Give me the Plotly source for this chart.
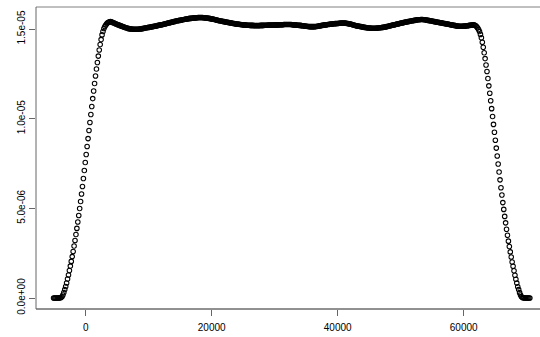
import numpy as np
import plotly.graph_objects as go

# Evaluation grid of the density (evenly spaced, read from first/last point)
X_FROM = -5100
X_TO = 70500

# Density values in units of 1e-8, one per grid point
density_e8 = [
    0, 0, 0, 0, 0, 0, 1, 1, 3, 7,
    17, 31, 47, 64, 84, 106, 128, 153, 178, 204,
    231, 259, 290, 321, 354, 388, 424, 460, 499, 538,
    580, 622, 666, 711, 756, 800, 845, 889, 934, 979,
    1023, 1068, 1112, 1154, 1196, 1238, 1277, 1313, 1349, 1383,
    1414, 1441, 1467, 1486, 1503, 1514, 1522, 1529, 1535, 1538,
    1540, 1541, 1540, 1537, 1535, 1533, 1531, 1528, 1526, 1524,
    1522, 1520, 1518, 1516, 1514, 1512, 1510, 1508, 1506, 1505,
    1503, 1502, 1501, 1500, 1500, 1499, 1499, 1499, 1499, 1499,
    1499, 1499, 1500, 1500, 1501, 1502, 1503, 1504, 1505, 1506,
    1507, 1508, 1509, 1510, 1511, 1512, 1513, 1514, 1515, 1516,
    1517, 1518, 1520, 1521, 1522, 1523, 1524, 1525, 1526, 1528,
    1529, 1530, 1532, 1533, 1534, 1536, 1537, 1538, 1540, 1541,
    1542, 1544, 1545, 1546, 1547, 1548, 1549, 1550, 1551, 1552,
    1553, 1554, 1555, 1556, 1557, 1558, 1559, 1559, 1560, 1561,
    1561, 1562, 1562, 1563, 1563, 1564, 1564, 1564, 1564, 1564,
    1564, 1563, 1563, 1562, 1561, 1561, 1560, 1559, 1558, 1557,
    1556, 1555, 1554, 1552, 1551, 1550, 1549, 1547, 1546, 1545,
    1544, 1543, 1542, 1541, 1540, 1539, 1538, 1537, 1536, 1535,
    1534, 1533, 1532, 1531, 1530, 1529, 1528, 1527, 1527, 1526,
    1525, 1525, 1524, 1524, 1523, 1523, 1522, 1522, 1521, 1521,
    1521, 1520, 1520, 1520, 1520, 1519, 1519, 1519, 1519, 1519,
    1519, 1519, 1520, 1520, 1520, 1520, 1521, 1521, 1521, 1521,
    1522, 1522, 1522, 1522, 1522, 1522, 1522, 1523, 1523, 1523,
    1523, 1523, 1524, 1524, 1524, 1524, 1524, 1525, 1525, 1525,
    1525, 1525, 1525, 1525, 1525, 1525, 1524, 1524, 1523, 1523,
    1522, 1522, 1521, 1521, 1520, 1520, 1519, 1518, 1518, 1517,
    1516, 1515, 1515, 1514, 1514, 1513, 1513, 1513, 1513, 1513,
    1513, 1514, 1514, 1515, 1516, 1517, 1518, 1519, 1520, 1521,
    1522, 1523, 1523, 1524, 1525, 1525, 1526, 1527, 1527, 1528,
    1529, 1529, 1530, 1530, 1531, 1531, 1532, 1532, 1533, 1533,
    1533, 1533, 1533, 1533, 1532, 1531, 1530, 1529, 1528, 1527,
    1525, 1524, 1522, 1521, 1519, 1518, 1517, 1516, 1515, 1514,
    1513, 1512, 1511, 1510, 1509, 1508, 1507, 1506, 1506, 1505,
    1505, 1504, 1504, 1504, 1504, 1504, 1504, 1505, 1505, 1506,
    1507, 1507, 1508, 1509, 1510, 1511, 1511, 1513, 1514, 1515,
    1517, 1518, 1519, 1521, 1522, 1523, 1524, 1525, 1527, 1528,
    1529, 1530, 1532, 1533, 1534, 1535, 1537, 1538, 1539, 1540,
    1541, 1542, 1543, 1544, 1545, 1546, 1547, 1548, 1549, 1550,
    1551, 1551, 1552, 1552, 1553, 1553, 1553, 1552, 1552, 1551,
    1550, 1549, 1548, 1547, 1546, 1545, 1544, 1543, 1542, 1541,
    1540, 1539, 1538, 1537, 1536, 1535, 1534, 1533, 1532, 1531,
    1530, 1529, 1528, 1527, 1526, 1525, 1524, 1523, 1522, 1521,
    1520, 1519, 1518, 1517, 1516, 1515, 1515, 1515, 1515, 1515,
    1516, 1516, 1517, 1518, 1518, 1519, 1520, 1521, 1522, 1522,
    1524, 1523, 1521, 1518, 1512, 1506, 1497, 1486, 1470, 1451,
    1426, 1398, 1368, 1335, 1299, 1263, 1224, 1183, 1142, 1100,
    1056, 1012, 968, 924, 880, 836, 792, 747, 703, 659,
    615, 574, 532, 494, 455, 419, 383, 350, 317, 287,
    257, 229, 201, 177, 152, 127, 105, 83, 63, 47,
    30, 17, 7, 3, 1, 1, 0, 0, 0, 0,
    0, 0,
]

x_ticks = [0, 20000, 40000, 60000]
x_tick_labels = ["0", "20000", "40000", "60000"]
y_ticks = [0.0, 5e-06, 1e-05, 1.5e-05]
y_tick_labels = ["0.0e+00", "5.0e-06", "1.0e-05", "1.5e-05"]

y = np.array(density_e8, dtype=float) * 1e-8
x = np.linspace(X_FROM, X_TO, len(y))

fig = go.Figure()
fig.add_trace(go.Scatter(
    x=x, y=y, mode="markers",
    marker=dict(symbol="circle-open", size=4.5, color="black",
                line=dict(width=1.1, color="black")),
    hoverinfo="skip", showlegend=False,
))

font = dict(family="Liberation Sans, Arial, sans-serif", size=10, color="black")

fig.update_layout(
    width=540, height=337,
    margin=dict(l=36, r=0, t=7, b=28, autoexpand=False),
    paper_bgcolor="white", plot_bgcolor="white",
    font=font,
    xaxis=dict(
        range=[-7889, 72111], showgrid=False, zeroline=False, automargin=False,
        tickmode="array", tickvals=x_ticks, ticktext=x_tick_labels,
        ticks="outside", ticklen=6, tickcolor="#666", tickwidth=1,
        showline=False, tickfont=font, ticklabelstandoff=3,
    ),
    yaxis=dict(
        range=[-6.13e-07, 1.6227e-05], showgrid=False, zeroline=False, automargin=False,
        tickmode="array", tickvals=y_ticks, ticktext=y_tick_labels,
        ticks="outside", ticklen=6, tickcolor="#666", tickwidth=1,
        tickangle=-90, showline=False, tickfont=font,
    ),
    shapes=[
        dict(type="line", xref="paper", yref="paper", x0=0, x1=1, y0=1, y1=1,
             line=dict(color="#808080", width=1)),
        dict(type="line", xref="paper", yref="paper", x0=0, x1=1, y0=0, y1=0,
             line=dict(color="#222", width=1)),
        dict(type="line", xref="paper", yref="paper", x0=0, x1=0, y0=0, y1=1,
             line=dict(color="#666", width=1)),
    ],
)

fig.write_html(
    "out.html",
    config={"displayModeBar": False},
    post_script="document.body.style.margin='0';document.body.style.overflow='hidden';",
)
